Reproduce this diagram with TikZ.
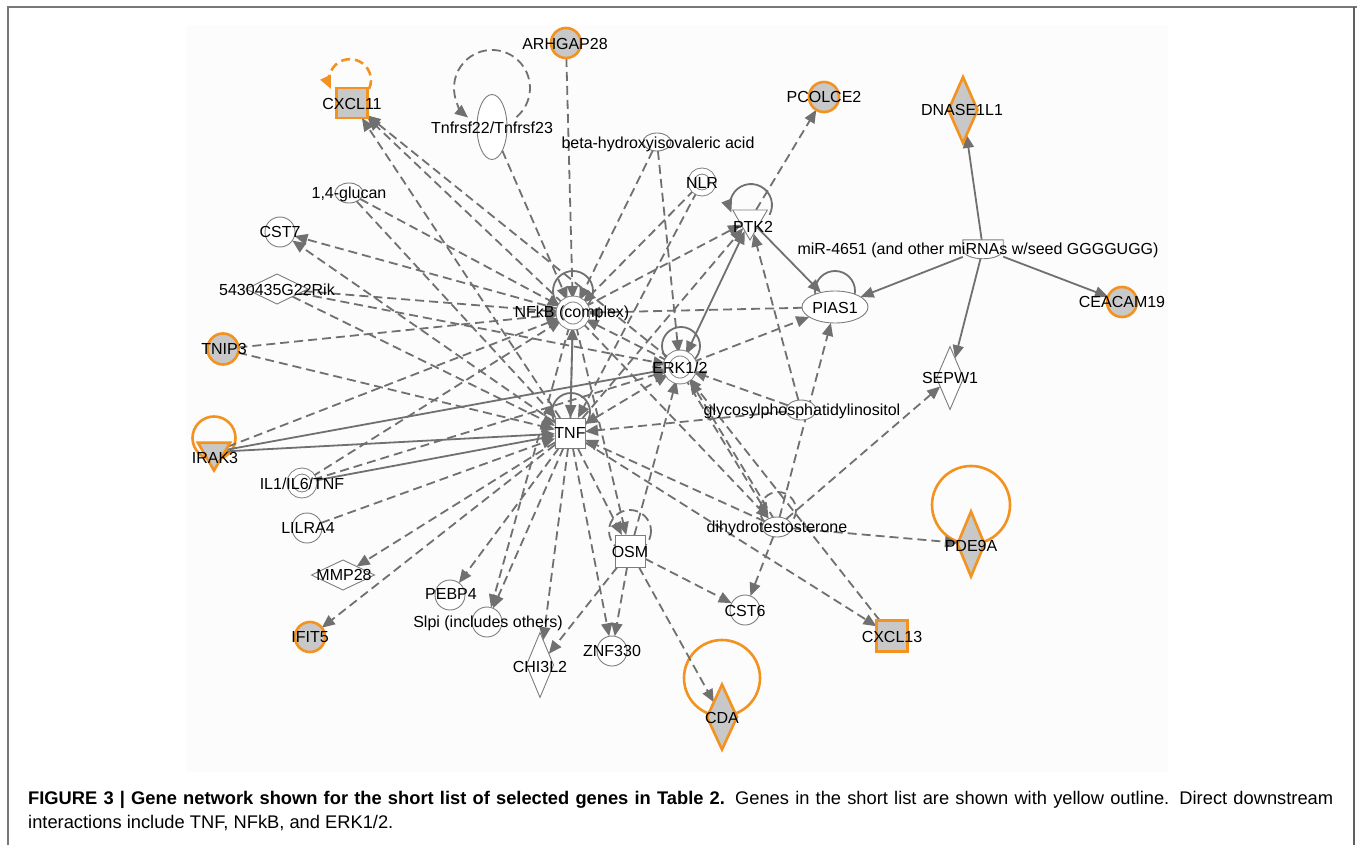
\documentclass[tikz,border=0pt]{standalone}
\usepackage{fontspec}
\setmainfont{Liberation Sans}
\usetikzlibrary{shapes.geometric,arrows.meta}
\pgfdeclarelayer{back}
\pgfdeclarelayer{bg}
\pgfsetlayers{back,bg,main}
\definecolor{edgegray}{RGB}{112,112,112}
\definecolor{nodegray}{RGB}{125,125,125}
\definecolor{hlorange}{RGB}{243,146,30}
\definecolor{hlfill}{RGB}{200,200,200}
\definecolor{panel}{RGB}{252,252,252}
\definecolor{framegray}{RGB}{120,120,120}
\tikzset{
  base/.style={draw=nodegray, line width=0.9pt, fill=white, inner sep=0pt, outer sep=0pt},
  hl/.style={draw=hlorange, line width=2.6pt, fill=hlfill, inner sep=0pt, outer sep=0pt},
  lbl/.style={font=\fontsize{16}{18}\selectfont, inner sep=0pt, text=black},
  circ/.style={circle, minimum size=#1}, circ/.default=30pt,
  sq/.style={rectangle, minimum width=30pt, minimum height=30pt},
  chem/.style={ellipse, minimum width=30pt, minimum height=20pt},
  vdia/.style={diamond, minimum width=28pt, minimum height=65pt},
  hdia/.style={diamond, minimum width=62pt, minimum height=30pt},
  cplx/.style={circle, double=white, double distance=5pt, line width=0.9pt},
  tri/.style={regular polygon, regular polygon sides=3, shape border rotate=180, minimum size=#1},
  tip/.style={-{Triangle[length=13pt,width=11pt]}},
  tips/.style={{Triangle[length=13pt,width=11pt]}-{Triangle[length=13pt,width=11pt]}},
  ed/.style={draw=edgegray, line width=1.8pt, dash pattern=on 9pt off 5pt, tip},
  es/.style={draw=edgegray, line width=1.8pt, tip},
  loopg/.style={draw=edgegray, line width=1.8pt},
  loopo/.style={draw=hlorange, line width=2.6pt},
  captext/.style={anchor=base west, inner sep=0pt, font=\fontsize{18.3}{22}\selectfont},
}
\begin{document}
\begin{tikzpicture}[x=1pt,y=-1pt]
\useasboundingbox (0,0) rectangle (1357,845);
\begin{pgfonlayer}{back}
\fill[white] (0,0) rectangle (1357,845);
\fill[panel] (186,25) rectangle (1168,772);
\draw[framegray, line width=2pt] (8,845) -- (8,7.5) -- (1357,7.5);
\draw[framegray!80!black, line width=1.6pt] (1354,7.5) -- (1354,845);
\end{pgfonlayer}

% ---------- nodes ----------
\node[hl, circ] (arhgap) at (566,43) {};
\node[lbl] (tarhgap) at (565,44) {ARHGAP28};
\node[hl, sq, minimum width=31pt] (cxcl11) at (352,103) {};
\node[lbl] (tcxcl11) at (352,104) {CXCL11};
\node[base, ellipse, minimum width=30pt, minimum height=65pt] (tnfr) at (492,127) {};
\node[lbl] (ttnfr) at (492,128) {Tnfrsf22/Tnfrsf23};
\node[base, chem, minimum width=28pt, minimum height=18pt] (beta) at (657,142) {};
\node[lbl] (tbeta) at (658,144) {beta-hydroxyisovaleric acid};
\node[base, cplx, circ=22pt] (nlr) at (702,182) {};
\node[lbl] (tnlr) at (702,183) {NLR};
\node[base, tri=40pt] (ptk2) at (750,220) {};
\node[lbl] (tptk2) at (753,227) {PTK2};
\node[hl, circ] (pcolce) at (824,97) {};
\node[lbl] (tpcolce) at (824,97) {PCOLCE2};
\node[hl, vdia, minimum width=29pt, minimum height=66pt] (dnase) at (963,110) {};
\node[lbl] (tdnase) at (962,110) {DNASE1L1};
\node[inner sep=0pt, minimum width=40pt, minimum height=18pt] (mir) at (983,249) {};
\draw[nodegray, line width=0.9pt, fill=white] (mir.north west) -- (mir.north east) -- (mir.east) .. controls +(0,13) and +(0,13) .. (mir.west) -- cycle;
\node[lbl] (tmir) at (978,250) {miR-4651 (and other miRNAs w/seed GGGGUGG)};
\node[base, ellipse, minimum width=66pt, minimum height=32pt] (pias1) at (835,307) {};
\node[lbl] (tpias1) at (835,308) {PIAS1};
\node[hl, circ] (ceacam) at (1122,302) {};
\node[lbl] (tceacam) at (1122,302) {CEACAM19};
\node[base, vdia, minimum width=27pt, minimum height=63pt] (sepw1) at (950,378) {};
\node[lbl] (tsepw1) at (950,378) {SEPW1};
\node[base, cplx, circ=28pt] (nfkb) at (573,313) {};
\node[lbl] (tnfkb) at (572,313) {NFkB (complex)};
\node[base, cplx, circ=28pt] (erk) at (680,367) {};
\node[lbl] (terk) at (680,368) {ERK1/2};
\node[base, sq] (tnf) at (570,433) {};
\node[lbl] (ttnf) at (570,433) {TNF};
\node[base, chem] (glyco) at (801,410) {};
\node[lbl] (tglyco) at (802,411) {glycosylphosphatidylinositol};
\node[base, chem] (dht) at (777,527) {};
\node[lbl] (tdht) at (777,528) {dihydrotestosterone};
\node[base, sq, minimum height=32pt] (osm) at (630,551) {};
\node[lbl] (tosm) at (630,552) {OSM};
\node[base, circ] (cst6) at (745,610) {};
\node[lbl] (tcst6) at (745,611) {CST6};
\node[hl, sq, minimum width=31pt, minimum height=31pt] (cxcl13) at (892,636) {};
\node[lbl] (tcxcl13) at (892,637) {CXCL13};
\node[hl, vdia, minimum width=27pt, minimum height=65pt] (pde9a) at (971,544) {};
\node[lbl] (tpde9a) at (971,546) {PDE9A};
\node[hl, vdia, minimum width=30pt, minimum height=65pt] (cda) at (722,717) {};
\node[lbl] (tcda) at (722,718) {CDA};
\node[base, circ] (znf) at (612,651) {};
\node[lbl] (tznf) at (612,651) {ZNF330};
\node[base, vdia, minimum width=27pt, minimum height=65pt] (chi) at (540,665) {};
\node[lbl] (tchi) at (540,667) {CHI3L2};
\node[base, circ] (slpi) at (487,622) {};
\node[lbl] (tslpi) at (488,623) {Slpi (includes others)};
\node[base, circ] (pebp4) at (450,595) {};
\node[lbl] (tpebp4) at (451,594) {PEBP4};
\node[hl, circ] (ifit5) at (310,637) {};
\node[lbl] (tifit5) at (310,637) {IFIT5};
\node[base, hdia, minimum width=63pt] (mmp28) at (343,575) {};
\node[lbl] (tmmp28) at (344,575) {MMP28};
\node[base, circ] (lilra4) at (307,528) {};
\node[lbl] (tlilra4) at (308,528) {LILRA4};
\node[base, cplx, circ=24pt] (il1) at (302,483) {};
\node[lbl] (til1) at (302,484) {IL1/IL6/TNF};
\node[hl, tri=37pt] (irak3) at (214,452) {};
\node[lbl] (tirak3) at (215,458) {IRAK3};
\node[hl, circ=31pt] (tnip3) at (223,349) {};
\node[lbl] (ttnip3) at (224,349) {TNIP3};
\node[base, hdia] (rik) at (277,289) {};
\node[lbl] (trik) at (277,290) {5430435G22Rik};
\node[base, circ] (cst7) at (280,232) {};
\node[lbl] (tcst7) at (280,232) {CST7};
\node[base, chem, minimum width=28pt] (glucan) at (349,193) {};
\node[lbl] (tglucan) at (349,194) {1,4-glucan};

% ---------- connectors and loops ----------
\begin{pgfonlayer}{bg}
% loops
\draw[loopo, dash pattern=on 9pt off 5pt, tip] ([shift={(17,-14)}]cxcl11.center) arc[start angle=25, end angle=-205, radius=21];
\draw[loopg, dash pattern=on 9pt off 5pt, tip] ([shift={(24.4,-9.9)}]tnfr.center) arc[start angle=50, end angle=-231, radius=38];
\draw[loopg, tip] ([shift={(19.5,-5.1)}]ptk2.center) arc[start angle=28, end angle=-201, radius=21];
\draw[loopo] ([shift={(0,-14)}]irak3.center) circle[radius=21.5];
\draw[loopg] ([shift={(0,-22)}]nfkb.center) circle[radius=20];
\draw[loopg] ([shift={(1,-21)}]erk.center) circle[radius=19];
\draw[loopg] ([shift={(1,-21)}]tnf.center) circle[radius=19];
\draw[loopg] ([shift={(0,-16)}]pias1.center) circle[radius=20];
\draw[loopg, dash pattern=on 9pt off 5pt] ([shift={(0,-20)}]osm.center) circle[radius=21];
\draw[loopg, dash pattern=on 9pt off 5pt] ([shift={(1,-17)}]dht.center) circle[radius=18];
\draw[loopo] ([shift={(0,-39)}]pde9a.center) circle[radius=39];
\draw[loopo] ([shift={(0,-39)}]cda.center) circle[radius=38];

% dashed relations
\draw[ed] (arhgap) -- (nfkb);
\draw[ed] (tnfr) -- (nfkb);
\draw[ed] (beta) -- (nfkb);
\draw[ed] (beta) -- (erk);
\draw[ed] (nlr) -- (nfkb);
\draw[ed] (nlr) -- (tnf);
\draw[ed] (nfkb) -- (cxcl11);
\draw[ed] (tnf) -- (cxcl11);
\draw[ed] (erk) -- (cxcl11);
\draw[ed] (glucan) -- (nfkb);
\draw[ed] (glucan) -- (tnf);
\draw[ed] (nfkb) -- (cst7);
\draw[ed] (tnf) -- (cst7);
\draw[ed] (rik) -- (nfkb);
\draw[ed] (rik) -- (tnf);
\draw[ed] (rik) -- (erk);
\draw[ed] (tnip3) -- (nfkb);
\draw[ed] (tnip3) -- (tnf);
\draw[ed] (irak3) -- (nfkb);
\draw[ed] (il1) -- (nfkb);
\draw[ed] (il1) -- (erk);
\draw[ed] (lilra4) -- (tnf);
\draw[ed] (tnf) -- (mmp28);
\draw[ed] (tnf) -- (ifit5);
\draw[ed] (tnf) -- (pebp4);
\draw[ed] (tnf) -- (slpi);
\draw[ed] (nfkb) -- (slpi);
\draw[ed] (tnf) -- (chi);
\draw[ed] (osm) -- (chi);
\draw[ed] (tnf) -- (znf);
\draw[ed] (osm) -- (znf);
\draw[ed] (osm) -- (cda);
\draw[ed] (osm) -- (cst6);
\draw[ed] (dht) -- (cst6);
\draw[ed] (tnf) -- (cxcl13);
\draw[ed] (cxcl13) -- (erk);
\draw[ed] (dht) -- (pde9a);
\draw[ed] (dht) -- (sepw1);
\draw[ed] (dht) -- (pias1);
\draw[ed] (glyco) -- (ptk2);
\draw[ed] (glyco) -- (erk);
\draw[ed] (glyco) -- (tnf);
\draw[ed] (erk) -- (pias1);
\draw[ed] (pias1) -- (nfkb);
\draw[ed] (ptk2) -- (pcolce);
\draw[ed] (nfkb) -- (ptk2);
\draw[ed] (tnf) -- (ptk2);
\draw[ed] (tnf) -- (nfkb);
\draw[ed] (erk) -- (nfkb);
\draw[ed, tips] (tnf) -- (erk);
\draw[ed, transform canvas={xshift=-3pt,yshift=2pt}] (erk) -- (dht);
\draw[ed, transform canvas={xshift=3pt,yshift=-2pt}] (dht) -- (erk);
\draw[ed] (nfkb) -- (dht);
\draw[ed] (dht) -- (tnf);
\draw[ed] (tnf) -- (osm);
\draw[ed] (osm) -- (erk);
\draw[ed] (nfkb) -- (osm);

% solid relations
\draw[es] (nfkb) -- (tnf);
\draw[es] (irak3) -- (erk);
\draw[es] (irak3) -- (tnf);
\draw[es] (il1) -- (tnf);
\draw[es] (ptk2) -- (pias1);
\draw[es, tips] (ptk2) -- (erk);
\draw[es] (mir) -- (pias1);
\draw[es] (mir) -- (dnase);
\draw[es] (mir) -- (ceacam);
\draw[es] (mir) -- (sepw1);
\end{pgfonlayer}

% ---------- caption ----------
\node[captext] (cap1) at (28,804) {\hbox to 1305pt{\textbf{FIGURE 3 | Gene network shown for the short list of selected genes in Table 2.} Genes in the short list are shown with yellow outline. Direct downstream}};
\node[captext] (cap2) at (28,828) {interactions include TNF, NFkB, and ERK1/2.};
\end{tikzpicture}
\end{document}
